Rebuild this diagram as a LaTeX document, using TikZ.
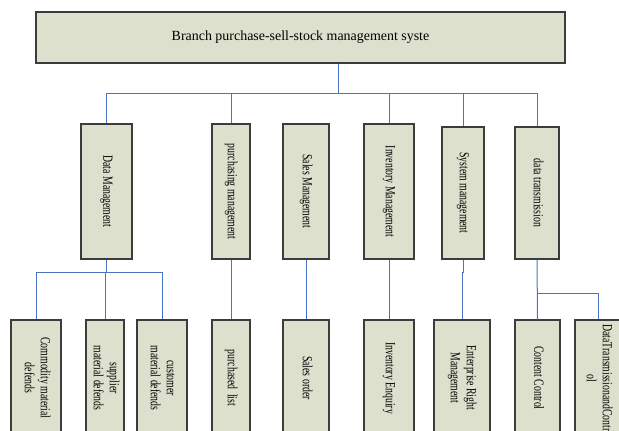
\documentclass[tikz,border=0pt]{standalone}
\usepackage{fontspec}
\setmainfont{Liberation Serif}
\newfontfamily\condserif[FakeStretch=0.7]{Liberation Serif}
\usepackage{graphicx}

\definecolor{boxfill}{RGB}{221,224,204}
\definecolor{boxline}{RGB}{60,60,60}
\definecolor{linkblue}{RGB}{72,118,196}

% vertical label: text turned to read top to bottom, lines centred
\newcommand{\sidelabel}[1]{\rotatebox{-90}{\condserif\fontsize{14}{16}\selectfont\begin{tabular}{@{}c@{}}#1\end{tabular}}}

\tikzset{
  block/.style={draw=boxline, line width=1.2bp, fill=boxfill, inner sep=0pt, rectangle},
  topblock/.style={block, minimum width=529bp, minimum height=51bp,
                   font=\fontsize{14}{16}\selectfont},
  midblock/.style={block, minimum height=135bp},
  lowblock/.style={block, minimum height=116bp},
  link/.style={draw=linkblue, line width=1bp}
}

\begin{document}
\begin{tikzpicture}[x=1bp, y=-1bp]
\useasboundingbox (0,0) rectangle (619,430);
\clip (0,0) rectangle (619,430);

% root
\node[topblock] (top) at (300.5,37.5) {Branch purchase-sell-stock management syste};

% first level
\node[midblock, minimum width=51bp] (dm) at (106.5,191.5) {\sidelabel{Data Management}};
\node[midblock, minimum width=38bp] (pm) at (231,191.5) {\sidelabel{purchasing management}};
\node[midblock, minimum width=46bp] (sm) at (306,191.5) {\sidelabel{Sales Management}};
\node[midblock, minimum width=50bp] (im) at (389,191.5) {\sidelabel{Inventory Management}};
\node[midblock, minimum width=42bp, minimum height=132bp] (sy) at (463,193) {\sidelabel{System management}};
\node[midblock, minimum width=44bp, minimum height=132bp] (dt) at (537,193) {\sidelabel{data transmission}};

% second level
\node[lowblock, minimum width=50bp] (cm) at (36,378) {\sidelabel{Commodity material\\defends}};
\node[lowblock, minimum width=38bp] (su) at (105,378) {\sidelabel{supplier\\material defends}};
\node[lowblock, minimum width=50bp] (cu) at (162,378) {\sidelabel{customer\\material defends}};
\node[lowblock, minimum width=38bp] (pl) at (231,378) {\sidelabel{purchased~~list}};
\node[lowblock, minimum width=46bp] (so) at (306,378) {\sidelabel{Sales order}};
\node[lowblock, minimum width=50bp] (ie) at (389,378) {\sidelabel{Inventory Enquiry}};
\node[lowblock, minimum width=56bp] (er) at (462,378) {\sidelabel{Enterprise Right\\Management}};
\node[lowblock, minimum width=45bp] (cc) at (537.5,378) {\sidelabel{Content Control}};
\node[lowblock, minimum width=46bp] (dtc) at (598,378) {\sidelabel{DataTransmissionandContr\\ol}};

% junction points
\coordinate (hub) at (338,93);
\coordinate (dmhub) at (107,272);
\coordinate (dthub) at (537,293);

% root to first level
\draw[link] (top.south -| hub) -- (hub);
\draw[link] (dm.north |- hub) -- (dt.north |- hub);
\foreach \n in {dm,pm,im,sy,dt}
  \draw[link] (\n.north |- hub) -- (\n.north);

% data management branch
\draw[link] (dm.south) -- (dm.south |- dmhub);
\draw[link] (cm.north |- dmhub) -- (cu.north |- dmhub);
\foreach \n in {cm,su,cu}
  \draw[link] (\n.north |- dmhub) -- (\n.north);

% single children
\draw[link] (pm.south) -- (pl.north);
\draw[link] (sm.south) -- (so.north);
\draw[link] (im.south) -- (ie.north);
\draw[link] (sy.south) -- (sy.south |- dmhub) -| (er.north);

% data transmission branch
\draw[link] (dt.south) -- (cc.north);
\draw[link] (dt.south |- dthub) -| (dtc.north);
\end{tikzpicture}
\end{document}
